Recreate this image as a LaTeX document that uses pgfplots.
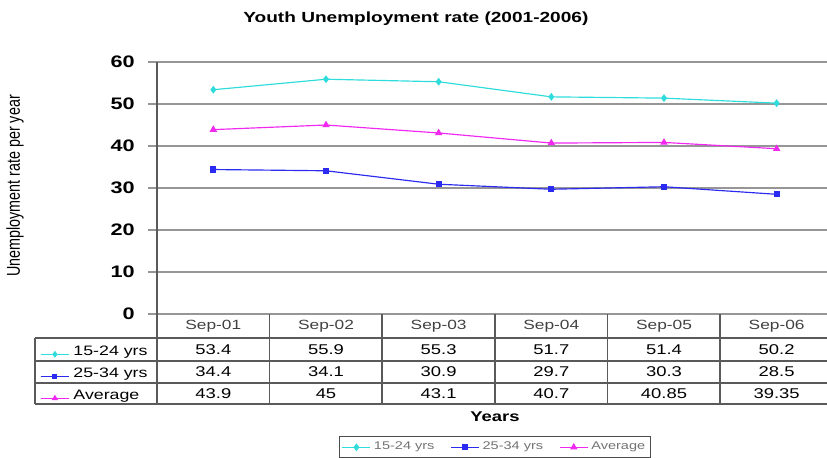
\documentclass[border=0pt]{standalone}
\usepackage{fontspec}
\setmainfont{Liberation Sans}
\usepackage{pgfplots}
\pgfplotsset{compat=1.18}
\definecolor{cseries}{HTML}{2FDCDC}
\definecolor{bseries}{HTML}{2A2AF0}
\definecolor{mseries}{HTML}{F028F0}
\definecolor{gridc}{HTML}{969696}
\definecolor{tabc}{HTML}{5A5A5A}
\newcommand{\hs}[1]{\scalebox{1.3}[1]{#1}}
\begin{document}
\begin{tikzpicture}
\useasboundingbox (0,0) rectangle (496.2pt,274.2pt);
\begin{axis}[
  at={(94.2pt,85.8pt)}, anchor=south west,
  scale only axis, width=405.6pt, height=151.2pt,
  xmin=-0.5, xmax=5.5, ymin=0, ymax=60,
  clip=false,
  /pgf/number format/assume math mode=true,
  axis line style={draw=none},
  xtick={0,1,2,3,4,5},
  xticklabels={\hs{Sep-01},\hs{Sep-02},\hs{Sep-03},\hs{Sep-04},\hs{Sep-05},\hs{Sep-06}},
  x tick style={draw=none},
  xticklabel style={font=\fontsize{8}{9}\selectfont, text=black!75, anchor=center, inner sep=0pt, yshift=-2.2pt},
  ytick={0,10,...,60},
  yticklabel={\hs{\pgfmathprintnumber{\tick}}},
  yticklabel style={font=\fontsize{10}{12}\selectfont\bfseries, anchor=east, inner sep=0pt, xshift=-7.8pt},
  y tick style={gridc, line width=1pt},
  tick align=outside, major tick length=5.4pt,
  ymajorgrids, grid style={gridc, line width=1pt},
  title={\hs{Youth Unemployment rate (2001-2006)}},
  title style={font=\fontsize{8.8}{10}\selectfont\bfseries, at={(axis description cs:0.383,1.131)}, anchor=center, inner sep=0pt},
  ylabel={\scalebox{1}[1.3]{Unemployment rate per year}},
  ylabel style={font=\fontsize{8.6}{10}\selectfont, at={(axis description cs:-0.21,0.508)}, anchor=center, inner sep=0pt},
  xlabel={\hs{Years}},
  xlabel style={font=\fontsize{8.5}{10}\selectfont\bfseries, at={(axis description cs:0.500,-0.408)}, anchor=center, inner sep=0pt},
  legend columns=3,
  legend style={at={(axis description cs:0.5,-0.484)}, anchor=north, draw=black!70, line width=0.8pt,
    font=\fontsize{6.7}{8}\selectfont, text=black!55, inner sep=1.5pt,
    /tikz/every even column/.append style={column sep=7.8pt},
    nodes={inner sep=1.8pt}},
  legend image code/.code={\draw[mark repeat=2,mark phase=2,#1] plot coordinates {(0pt,0pt) (8.4pt,0pt) (16.8pt,0pt)};},
]
\addplot[cseries, line width=0.7pt, mark=diamond*, mark size=1.8pt] coordinates {(0,53.4) (1,55.9) (2,55.3) (3,51.7) (4,51.4) (5,50.2)};
\addlegendentry{\hs{15-24 yrs}}
\addplot[bseries, line width=0.7pt, mark=square*, mark size=1.5pt] coordinates {(0,34.4) (1,34.1) (2,30.9) (3,29.7) (4,30.3) (5,28.5)};
\addlegendentry{\hs{25-34 yrs}}
\addplot[mseries, line width=0.7pt, mark=triangle*, mark size=1.9pt] coordinates {(0,43.9) (1,45) (2,43.1) (3,40.7) (4,40.85) (5,39.35)};
\addlegendentry{\hs{Average}}
% table frame
\draw[tabc, line width=1pt] (axis cs:-0.5,60) -- (axis cs:-0.5,-21.43);
\draw[tabc, line width=1pt] (axis cs:0.5,0) -- (axis cs:0.5,-21.43);
\draw[tabc, line width=1pt] (axis cs:1.5,0) -- (axis cs:1.5,-21.43);
\draw[tabc, line width=1pt] (axis cs:2.5,0) -- (axis cs:2.5,-21.43);
\draw[tabc, line width=1pt] (axis cs:3.5,0) -- (axis cs:3.5,-21.43);
\draw[tabc, line width=1pt] (axis cs:4.5,0) -- (axis cs:4.5,-21.43);
\draw[tabc, line width=1pt] (axis cs:-1.5825,-5.714) -- (axis cs:5.6,-5.714);
\draw[tabc, line width=1pt] (axis cs:-1.5825,-11.19) -- (axis cs:5.6,-11.19);
\draw[tabc, line width=1pt] (axis cs:-1.5825,-16.43) -- (axis cs:5.6,-16.43);
\draw[tabc, line width=1pt] (axis cs:-1.5825,-21.43) -- (axis cs:5.6,-21.43);
\draw[tabc, line width=1pt] (axis cs:-1.5825,-5.714) -- (axis cs:-1.5825,-21.43);
% table values
\node[font=\fontsize{8.5}{10}\selectfont] at (axis cs:0,-8.45) {\hs{53.4}};
\node[font=\fontsize{8.5}{10}\selectfont] at (axis cs:1,-8.45) {\hs{55.9}};
\node[font=\fontsize{8.5}{10}\selectfont] at (axis cs:2,-8.45) {\hs{55.3}};
\node[font=\fontsize{8.5}{10}\selectfont] at (axis cs:3,-8.45) {\hs{51.7}};
\node[font=\fontsize{8.5}{10}\selectfont] at (axis cs:4,-8.45) {\hs{51.4}};
\node[font=\fontsize{8.5}{10}\selectfont] at (axis cs:5,-8.45) {\hs{50.2}};
\node[font=\fontsize{8.5}{10}\selectfont] at (axis cs:0,-13.81) {\hs{34.4}};
\node[font=\fontsize{8.5}{10}\selectfont] at (axis cs:1,-13.81) {\hs{34.1}};
\node[font=\fontsize{8.5}{10}\selectfont] at (axis cs:2,-13.81) {\hs{30.9}};
\node[font=\fontsize{8.5}{10}\selectfont] at (axis cs:3,-13.81) {\hs{29.7}};
\node[font=\fontsize{8.5}{10}\selectfont] at (axis cs:4,-13.81) {\hs{30.3}};
\node[font=\fontsize{8.5}{10}\selectfont] at (axis cs:5,-13.81) {\hs{28.5}};
\node[font=\fontsize{8.5}{10}\selectfont] at (axis cs:0,-18.93) {\hs{43.9}};
\node[font=\fontsize{8.5}{10}\selectfont] at (axis cs:1,-18.93) {\hs{45}};
\node[font=\fontsize{8.5}{10}\selectfont] at (axis cs:2,-18.93) {\hs{43.1}};
\node[font=\fontsize{8.5}{10}\selectfont] at (axis cs:3,-18.93) {\hs{40.7}};
\node[font=\fontsize{8.5}{10}\selectfont] at (axis cs:4,-18.93) {\hs{40.85}};
\node[font=\fontsize{8.5}{10}\selectfont] at (axis cs:5,-18.93) {\hs{39.35}};
\end{axis}
\begin{axis}[
  at={(94.2pt,85.8pt)}, anchor=south west,
  scale only axis, width=405.6pt, height=151.2pt,
  hide axis, xmin=0, xmax=1, ymin=0, ymax=1,
  legend cell align=left,
  legend style={at={(axis description cs:-0.1731,-0.115)}, anchor=north west, draw=none, fill=none,
    inner sep=0pt, row sep=0pt, font=\fontsize{8.2}{9}\selectfont,
    /tikz/every odd column/.append style={column sep=2.4pt},
    nodes={inner sep=0pt, text height=7.6pt, text depth=5.6pt}},
  legend image code/.code={\draw[mark repeat=2,mark phase=2,#1] plot coordinates {(0pt,0pt) (8.4pt,0pt) (16.8pt,0pt)};},
]
\addlegendimage{cseries, line width=0.7pt, mark=diamond*, mark size=1.5pt}
\addlegendentry{\hs{15-24 yrs}}
\addlegendimage{bseries, line width=0.7pt, mark=square*, mark size=1.2pt}
\addlegendentry{\hs{25-34 yrs}}
\addlegendimage{mseries, line width=0.7pt, mark=triangle*, mark size=1.5pt}
\addlegendentry{\hs{Average}}
\end{axis}
\end{tikzpicture}
\end{document}
